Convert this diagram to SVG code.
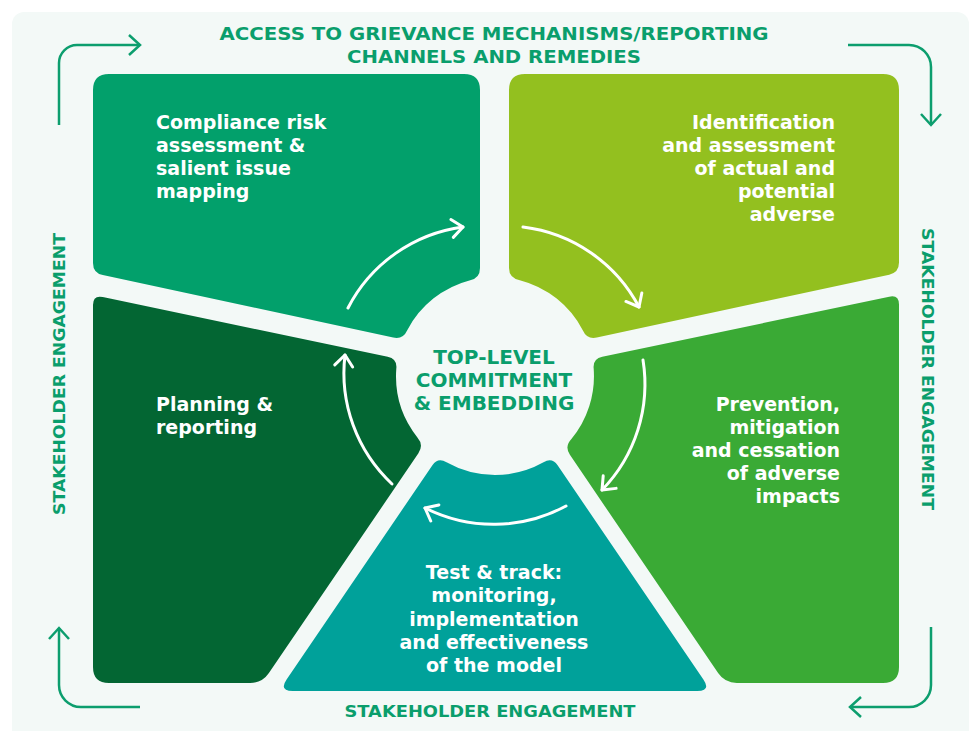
<svg xmlns="http://www.w3.org/2000/svg" width="977" height="731" viewBox="0 0 977 731">
<style>
.t{font-family:"DejaVu Sans","Liberation Sans",sans-serif;font-weight:bold;font-size:19px;fill:#ffffff}
.h{font-family:"DejaVu Sans","Liberation Sans",sans-serif;font-weight:bold;fill:#0a9e6c}
.con{fill:none;stroke:#0c9e6e;stroke-width:2.5}
.arr{fill:none;stroke:#ffffff;stroke-width:3;stroke-linecap:round}
</style>
<defs>
<marker id="hw" markerUnits="userSpaceOnUse" refX="0" refY="0" markerWidth="30" markerHeight="30" orient="auto" overflow="visible">
<path d="M -11,-9 L 0,0 L -11,9" fill="none" stroke="#ffffff" stroke-width="3" stroke-linecap="round" stroke-linejoin="round"/>
</marker>
<marker id="hg" markerUnits="userSpaceOnUse" refX="0" refY="0" markerWidth="30" markerHeight="30" orient="auto" overflow="visible">
<path d="M -11,-10 L 0,0 L -11,10" fill="none" stroke="#0c9e6e" stroke-width="2.5" stroke-linejoin="miter"/>
</marker>
</defs>
<rect x="0" y="0" width="977" height="731" fill="#ffffff"/>
<rect x="12" y="12" width="957" height="730" rx="12" fill="#f3f9f7"/>

<g id="title">
<text class="h" x="494" y="40" font-size="18.5" text-anchor="middle" textLength="549" lengthAdjust="spacingAndGlyphs">ACCESS TO GRIEVANCE MECHANISMS/REPORTING</text>
<text class="h" x="494" y="62.5" font-size="18.5" text-anchor="middle" textLength="294" lengthAdjust="spacingAndGlyphs">CHANNELS AND REMEDIES</text>
</g>

<g id="node-compliance">
<path fill="#02a06b" d="M 93,90 Q 93,74 109,74 L 464,74 Q 480,74 480,90 L 480,268 Q 480,278.1 470.2,280.2 A 99 99 0 0 0 407.1,330.4 Q 403,339.6 393.2,337.5 L 102.8,275.1 Q 93,273 93,263 Z"/>
<text class="t" x="156" y="129">Compliance risk</text>
<text class="t" x="156" y="152">assessment &amp;</text>
<text class="t" x="156" y="175">salient issue</text>
<text class="t" x="156" y="198">mapping</text>
</g>

<g id="node-identification">
<path fill="#93c01f" d="M 899,90 Q 899,74 883,74 L 525,74 Q 509,74 509,90 L 509,268 Q 509,278 519.8,280.2 A 99 99 0 0 1 582.9,330.4 Q 587,339.6 596.8,337.5 L 889.2,274.7 Q 899,272.6 899,262.6 Z"/>
<text class="t" x="835" y="129" text-anchor="end">Identification</text>
<text class="t" x="835" y="152" text-anchor="end">and assessment</text>
<text class="t" x="835" y="175" text-anchor="end">of actual and</text>
<text class="t" x="835" y="198" text-anchor="end">potential</text>
<text class="t" x="835" y="221" text-anchor="end">adverse</text>
</g>

<g id="node-prevention">
<path fill="#3aaa35" d="M 899,304.6 Q 899,294.6 889.2,296.7 L 602.3,356.8 Q 592.5,358.9 593.7,368.8 A 99 99 0 0 1 571.2,439.2 Q 564.3,446.5 569.9,454.8 L 718.1,673.1 Q 724.8,683 736.8,683 L 883,683 Q 899,683 899,667 Z"/>
<text class="t" x="840" y="411" text-anchor="end">Prevention,</text>
<text class="t" x="840" y="434" text-anchor="end">mitigation</text>
<text class="t" x="840" y="457" text-anchor="end">and cessation</text>
<text class="t" x="840" y="480" text-anchor="end">of adverse</text>
<text class="t" x="840" y="503" text-anchor="end">impacts</text>
</g>

<g id="node-test">
<path fill="#00a19a" d="M 446.5,462.3 A 99 99 0 0 0 543.5,462.3 Q 552,457 557.6,465.3 L 703.4,679.4 Q 711.3,691 697.3,691 L 292.7,691 Q 278.7,691 286.6,679.4 L 432.4,465.3 Q 438,457 446.5,462.3 Z"/>
<text class="t" x="494" y="579" text-anchor="middle">Test &amp; track:</text>
<text class="t" x="494" y="602" text-anchor="middle">monitoring,</text>
<text class="t" x="494" y="626" text-anchor="middle">implementation</text>
<text class="t" x="494" y="649" text-anchor="middle">and effectiveness</text>
<text class="t" x="494" y="672" text-anchor="middle">of the model</text>
</g>

<g id="node-planning">
<path fill="#036633" d="M 93,305 Q 93,295 102.8,297.1 L 387.7,356.8 Q 397.5,358.9 396.3,368.8 A 99 99 0 0 0 417.4,437.5 Q 424,445 418.4,453.3 L 268.9,673.1 Q 262.2,683 250.2,683 L 109,683 Q 93,683 93,667 Z"/>
<text class="t" x="156" y="411">Planning &amp;</text>
<text class="t" x="156" y="434">reporting</text>
</g>

<g id="node-center">
<text class="h" x="494" y="364" font-size="20" text-anchor="middle">TOP-LEVEL</text>
<text class="h" x="494" y="386.5" font-size="20" text-anchor="middle">COMMITMENT</text>
<text class="h" x="494" y="409.5" font-size="20" text-anchor="middle">&amp; EMBEDDING</text>
</g>

<g id="labels-stakeholder">
<text class="h" font-size="16.5" text-anchor="middle" textLength="282" lengthAdjust="spacingAndGlyphs" transform="translate(65,374) rotate(-90)">STAKEHOLDER ENGAGEMENT</text>
<text class="h" font-size="16.5" text-anchor="middle" textLength="282" lengthAdjust="spacingAndGlyphs" transform="translate(922,369) rotate(90)">STAKEHOLDER ENGAGEMENT</text>
<text class="h" x="490" y="716.5" font-size="16.5" text-anchor="middle" textLength="291" lengthAdjust="spacingAndGlyphs">STAKEHOLDER ENGAGEMENT</text>
</g>

<g id="connectors">
<path class="arr" marker-end="url(#hw)" d="M 348,308 A 152 152 0 0 1 463,227"/>
<path class="arr" marker-end="url(#hw)" d="M 523,227 A 152 152 0 0 1 639,307"/>
<path class="arr" marker-end="url(#hw)" d="M 643,360 A 152 152 0 0 1 602,490"/>
<path class="arr" marker-end="url(#hw)" d="M 566,506 A 152 152 0 0 1 425,508"/>
<path class="arr" marker-end="url(#hw)" d="M 392,484 A 152 152 0 0 1 345,355"/>
<path class="con" marker-end="url(#hg)" d="M 59,125 V 63 A 18 18 0 0 1 77,45 H 140"/>
<path class="con" marker-end="url(#hg)" d="M 848,45 H 909 A 22 22 0 0 1 931,67 V 125"/>
<path class="con" marker-end="url(#hg)" d="M 931,627 V 685 A 22 22 0 0 1 909,707 H 850"/>
<path class="con" marker-end="url(#hg)" d="M 140,707 H 81 A 22 22 0 0 1 59,685 V 628"/>
</g>
</svg>
